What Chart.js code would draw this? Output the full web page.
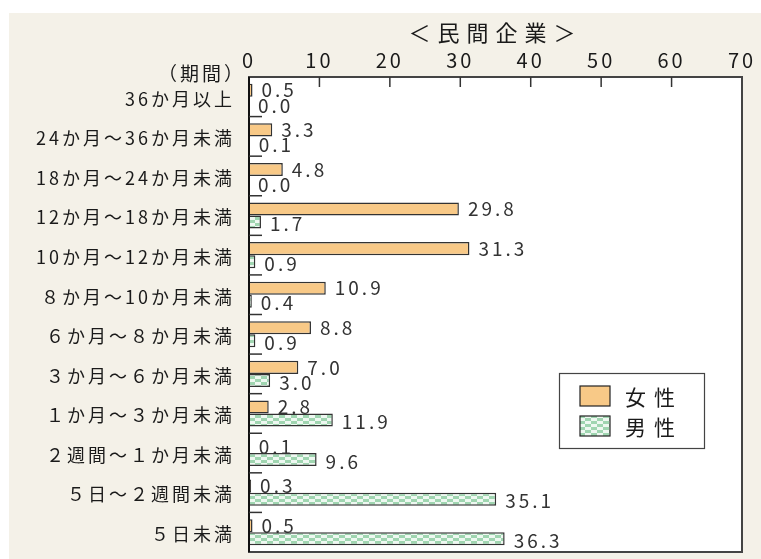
<!DOCTYPE html>
<html><head><meta charset="utf-8">
<script src="https://cdn.jsdelivr.net/npm/chart.js@4.4.1/dist/chart.umd.min.js"></script>
<style>
html,body{margin:0;padding:0;background:#fff;width:761px;height:559px;overflow:hidden;}
#c{position:absolute;left:9px;top:13px;width:752px;height:546px;background:#f4f1e8;display:block;}
</style></head>
<body><canvas id="c" width="752" height="546"></canvas>
<script>
const title = '＜民間企業＞';
const periodLabel = '（期間）';
const categories = ['36か月以上','24か月～36か月未満','18か月～24か月未満','12か月～18か月未満','10か月～12か月未満','８か月～10か月未満','６か月～８か月未満','３か月～６か月未満','１か月～３か月未満','２週間～１か月未満','５日～２週間未満','５日未満'];
const seriesNames = ['女性','男性'];
const female = [0.5,3.3,4.8,29.8,31.3,10.9,8.8,7.0,2.8,0.1,0.3,0.5];
const male = [0.0,0.1,0.0,1.7,0.9,0.4,0.9,3.0,11.9,9.6,35.1,36.3];
const xTicks = [0,10,20,30,40,50,60,70];

const FONT = '"Noto Sans CJK JP","Noto Sans",sans-serif';

function makePattern(){
  const t = document.createElement('canvas'); t.width = 12; t.height = 6;
  const g = t.getContext('2d');
  g.fillStyle = '#9fd5b0'; g.fillRect(0,0,12,6);
  g.fillStyle = '#eef8f1'; g.fillRect(0,0,6,3); g.fillRect(6,3,6,3);
  return document.getElementById('c').getContext('2d').createPattern(t,'repeat');
}
const orange = '#f8c987';
const greenPat = makePattern();

function wrapTitle(ch){
  const t = ch.titleBlock;
  if (t && !t._wrapped){
    const d = t.draw.bind(t);
    t.draw = function(){ const c = ch.ctx; const old = c.letterSpacing; c.letterSpacing = '7px'; d(); c.letterSpacing = old; };
    t._wrapped = true;
  }
}

const spacing = {
  id:'spacing',
  beforeInit(ch){ ch.ctx.letterSpacing = '3px'; },
  beforeLayout(ch){ ch.ctx.letterSpacing = '3px'; },
  afterLayout(ch){ wrapTitle(ch); },
  beforeDraw(ch){
    wrapTitle(ch);
    ch.ctx.letterSpacing = '3px';
    const a = ch.chartArea, c = ch.ctx;
    c.save(); c.fillStyle = '#fff'; c.fillRect(a.left,a.top,a.right-a.left,a.bottom-a.top); c.restore();
  }
};

const extras = {
  id:'extras',
  afterDatasetsDraw(ch){
    const c = ch.ctx, a = ch.chartArea, xs = ch.scales.x, ys = ch.scales.y;
    c.save();
    // frame
    c.strokeStyle = '#444'; c.lineWidth = 2;
    c.strokeRect(a.left, a.top, a.right-a.left, a.bottom-a.top);
    c.strokeStyle = '#111'; c.lineWidth = 2;
    c.beginPath(); c.moveTo(a.left, a.top); c.lineTo(a.left, a.bottom); c.stroke();
    // top inner ticks
    c.strokeStyle = '#333'; c.lineWidth = 1.5;
    xTicks.slice(1,-1).forEach(v=>{
      const x = xs.getPixelForValue(v);
      c.beginPath(); c.moveTo(x, a.top); c.lineTo(x, a.top+10); c.stroke();
    });
    // left inner ticks at category boundaries
    for(let i=0;i<categories.length-1;i++){
      const y = (ys.getPixelForValue(i)+ys.getPixelForValue(i+1))/2;
      c.beginPath(); c.moveTo(a.left, y); c.lineTo(a.left+13, y); c.stroke();
    }
    // value labels
    c.letterSpacing = '3px';
    c.font = '19px ' + FONT; c.fillStyle = '#333'; c.textAlign = 'left'; c.textBaseline = 'middle';
    ch.data.datasets.forEach((ds,di)=>{
      const meta = ch.getDatasetMeta(di);
      meta.data.forEach((el,i)=>{
        c.fillText(ds.data[i].toFixed(1), el.x + 9, el.y + (di===1?2:0));
      });
    });
    // period label
    c.font = '19px ' + FONT; c.fillStyle = '#1a1a1a'; c.textAlign = 'right';
    c.fillText(periodLabel, 237, 61);
    // legend
    const lx = 550, ly = 360, lw = 145, lh = 75;
    c.fillStyle = '#fff'; c.fillRect(lx,ly,lw,lh);
    c.strokeStyle = '#444'; c.lineWidth = 1.2; c.strokeRect(lx+0.5,ly+0.5,lw,lh);
    const sw = [[orange, 373],[greenPat, 403]];
    sw.forEach((s,i)=>{
      c.fillStyle = s[0]; c.fillRect(571, s[1], 30, 20);
      c.strokeStyle = '#222'; c.lineWidth = 1.2; c.strokeRect(571, s[1], 30, 20);
      c.fillStyle = '#1a1a1a'; c.font = '21px ' + FONT; c.textAlign = 'left';
      c.letterSpacing = '8px';
      c.fillText(seriesNames[i], 616, s[1]+11);
    });
    c.restore();
  }
};

new Chart(document.getElementById('c'), {
  type:'bar',
  data:{
    labels: categories,
    datasets:[
      {label:seriesNames[0], data:female, backgroundColor:orange, borderColor:'#333', borderWidth:1.5},
      {label:seriesNames[1], data:male, backgroundColor:greenPat, borderColor:'#333', borderWidth:1.5}
    ]
  },
  options:{
    indexAxis:'y',
    responsive:false, maintainAspectRatio:false, animation:false, devicePixelRatio:1,
    categoryPercentage:0.66, barPercentage:1.0,
    layout:{padding:{left:0,right:19,top:0,bottom:7}},
    plugins:{
      legend:{display:false}, tooltip:{enabled:false},
      title:{display:true, text:title, fullSize:false, color:'#1a1a1a', font:{family:FONT,size:22,weight:'normal'}, padding:{top:6,bottom:0}}
    },
    scales:{
      x:{
        position:'top', min:0, max:70,
        afterBuildTicks(s){ s.ticks = xTicks.map(v=>({value:v})); },
        ticks:{color:'#1a1a1a', font:{family:FONT,size:20}, padding:5, maxRotation:0},
        grid:{display:false, drawTicks:false},
        border:{display:false},
        afterFit(s){ s.height = 31.6; s.paddingLeft = 0; s.paddingRight = 0; }
      },
      y:{
        ticks:{color:'#1a1a1a', font:{family:FONT,size:18}, padding:14, labelOffset:2, autoSkip:false},
        grid:{display:false, drawTicks:false},
        border:{display:false},
        afterFit(s){ s.width = 240; s.paddingTop = 0; s.paddingBottom = 0; }
      }
    }
  },
  plugins:[spacing, extras]
});
</script></body></html>
